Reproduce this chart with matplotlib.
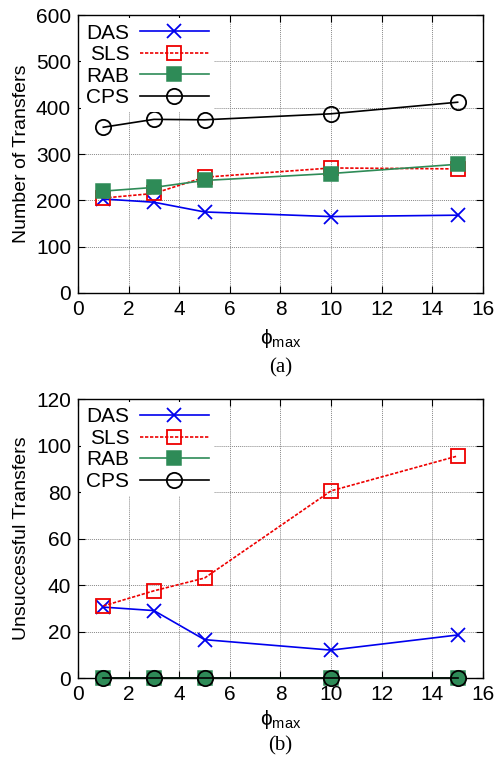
import matplotlib
matplotlib.use("Agg")
import matplotlib.pyplot as plt

plt.rcParams['font.family'] = ['Liberation Sans', 'DejaVu Sans']
plt.rcParams['mathtext.fontset'] = 'custom'
plt.rcParams['mathtext.rm'] = 'Liberation Sans'

phi = [1, 3, 5, 10, 15]
series = ["DAS", "SLS", "RAB", "CPS"]

# (a) Number of transfers
das_a = [203, 196, 175, 165, 168]
sls_a = [205, 215, 250, 270, 268]
rab_a = [220, 228, 243, 258, 278]
cps_a = [358, 375, 374, 387, 412]

# (b) Unsuccessful transfers
das_b = [30.5, 29, 16.5, 12, 18.5]
sls_b = [31, 37.5, 43, 80.5, 95.5]
rab_b = [0, 0, 0, 0, 0]
cps_b = [0, 0, 0, 0, 0]

styles = {
    "DAS": dict(color='#0000ee', marker='x', ls='-', ms=10, mew=1.3, mfc='none'),
    "SLS": dict(color='#ee0000', marker='s', ls=(0, (2, 1)), ms=10, mew=1.3, mfc='none'),
    "RAB": dict(color='#2e8b57', marker='s', ls='-', ms=10, mew=1.1, mfc='#2e8b57'),
    "CPS": dict(color='black', marker='o', ls='-', ms=11, mew=1.3, mfc='none'),
}

fig = plt.figure(figsize=(4.95, 7.59), dpi=100)
ax1 = fig.add_axes([0.1576, 0.614, 0.818, 0.366])
ax2 = fig.add_axes([0.1576, 0.1067, 0.818, 0.3676])

def draw(ax, data, ylim, yticks, ylabel, tag, xpad):
    for name, vals in zip(series, data):
        st = styles[name]
        ax.plot(phi, vals, color=st['color'], marker=st['marker'], ls=st['ls'],
                ms=st['ms'], mew=st['mew'], mfc=st['mfc'], mec=st['color'],
                lw=1.2, label=name, clip_on=False, zorder=3)
    ax.set_xlim(0, 16)
    ax.set_ylim(*ylim)
    ax.set_xticks(range(0, 17, 2))
    ax.set_yticks(yticks)
    ax.grid(True, color='#888888', ls=(0, (1, 1)), lw=0.7)
    ax.set_axisbelow(True)
    ax.tick_params(direction='in', top=True, right=True, labelsize=15, length=5, pad=5)
    for s in ax.spines.values():
        s.set_linewidth(1.0)
    ax.set_ylabel(ylabel, fontsize=14, labelpad=4)
    ax.set_xlabel('\u03d5$_{\\mathrm{max}}$', fontsize=15, labelpad=xpad)
    leg = ax.legend(loc='upper left', markerfirst=False, frameon=True, fontsize=15,
                    handlelength=3.3, handletextpad=0.5, labelspacing=0.12,
                    borderpad=0.25, borderaxespad=0.15, fancybox=False)
    leg.get_frame().set_edgecolor('none')
    leg.get_frame().set_facecolor('white')
    leg.get_frame().set_alpha(1.0)
    for t in leg.get_texts():
        t.set_ha('right')
    ax.text(0.5, tag[1], tag[0], transform=ax.transAxes, ha='center', va='top',
            fontsize=15, family='Liberation Serif')

draw(ax1, [das_a, sls_a, rab_a, cps_a], (0, 600), range(0, 601, 100),
     'Number of Transfers', ('(a)', -0.235), 6)
draw(ax2, [das_b, sls_b, rab_b, cps_b], (0, 120), range(0, 121, 20),
     'Unsuccessful Transfers', ('(b)', -0.21), 3)

fig.savefig('out.png', dpi=100)
